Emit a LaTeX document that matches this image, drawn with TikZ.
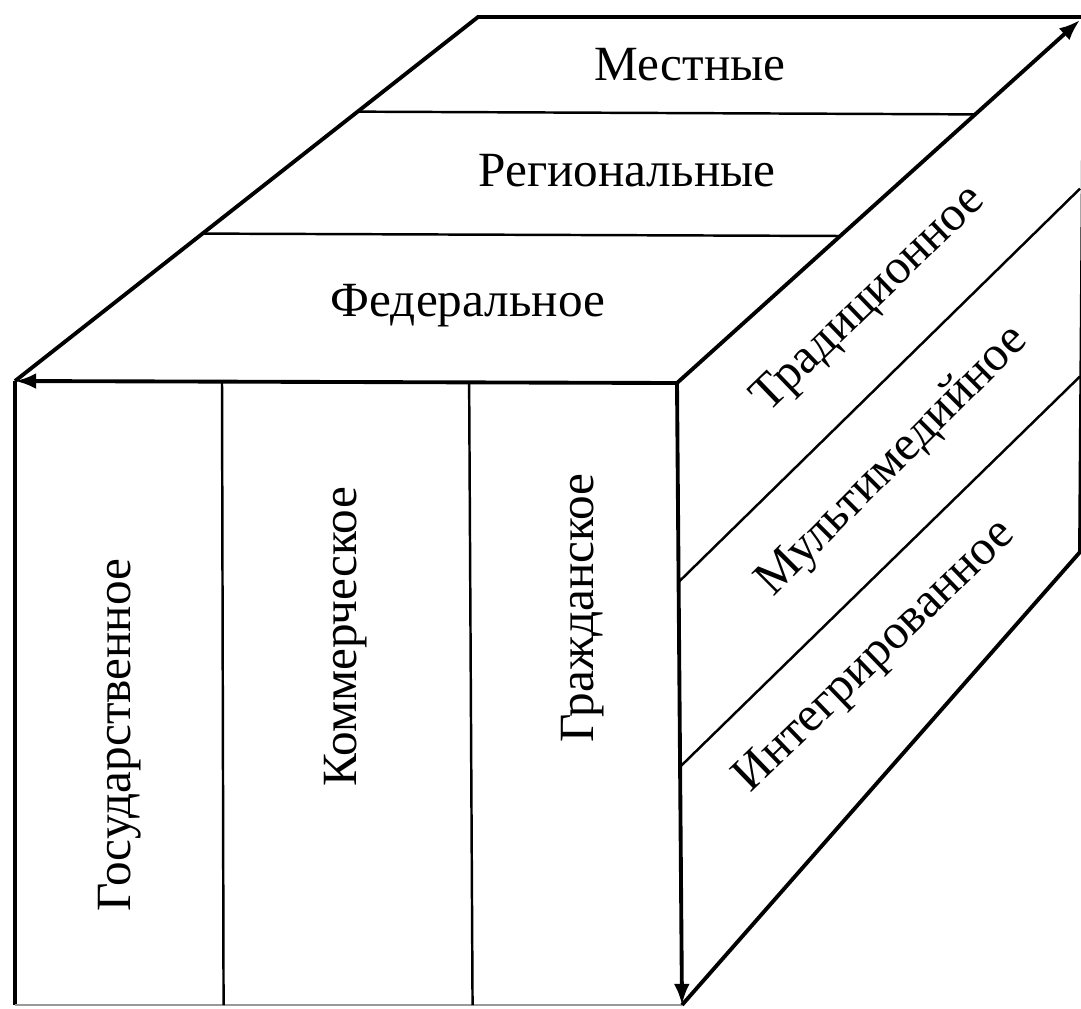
\documentclass[tikz,border=0pt]{standalone}
\usepackage{fontspec}
\setmainfont{Liberation Serif}
\usetikzlibrary{arrows.meta}
\usetikzlibrary{calc}

\begin{document}
\begin{tikzpicture}[x=0.01cm, y=-0.01cm, edge/.style={line width=1.1pt}, axis/.style={line width=1.1pt, -{Latex[length=6pt,width=4.5pt]}}, divline/.style={line width=0.7pt}, facelbl/.style={font=\fontsize{14}{16}\selectfont, inner sep=0pt}]
	\useasboundingbox (0,0) rectangle (1081,1008);
	\coordinate (ftl) at (15,381);
	\coordinate (ftr) at (677,383);
	\coordinate (fbr) at (682,1005);
	\coordinate (fbl) at (15,1005);
	\coordinate (btl) at (478,17);
	\coordinate (btr) at (1080,20);
	\coordinate (bbr) at (1080,552);
	\coordinate (bend) at (1084,17);
	\draw[edge] (ftl) -- (btl) -- (bend);
	\draw[edge] (ftl) -- (fbl);
	\draw[divline, draw=black!40] (fbl) -- (fbr);
	\draw[edge] (fbr) -- (bbr) -- (bend);
	\draw[axis] (ftr) -- (ftl);
	\draw[axis] (ftr) -- (fbr);
	\draw[axis] (ftr) -- (btr);
	\foreach \t in {0.405,0.74} \draw[divline] ($(ftl)!\t!(btl)$) -- ($(ftr)!\t!(btr)$);
	\foreach \t in {0.3127,0.686} \draw[divline] ($(ftl)!\t!(ftr)$) -- ($(fbl)!\t!(fbr)$);
	\draw[divline] ($(ftr)!0.32!(fbr)$) -- ($(btr)!0.317!(bbr)$);
	\draw[divline] ($(ftr)!0.617!(fbr)$) -- ($(btr)!0.67!(bbr)$);
	\node[facelbl, anchor=base] (local) at (690,80) {Местные};
	\node[facelbl, anchor=base] (regional) at (627,186) {Региональные};
	\node[facelbl, anchor=base] (federal) at (468,316) {Федеральное};
	\node[facelbl, rotate=90] (state) at (120,735) {Государственное};
	\node[facelbl, rotate=90] (commercial) at (346,637) {Коммерческое};
	\node[facelbl, rotate=90] (civil) at (583,608) {Гражданское};
	\node[facelbl, rotate=44] (traditional) at (870,300) {Традиционное};
	\node[facelbl, rotate=45] (multimedia) at (893,462) {Мультимедийное};
	\node[facelbl, rotate=44] (integrated) at (876,657) {Интегрированное};
\end{tikzpicture}
\end{document}
